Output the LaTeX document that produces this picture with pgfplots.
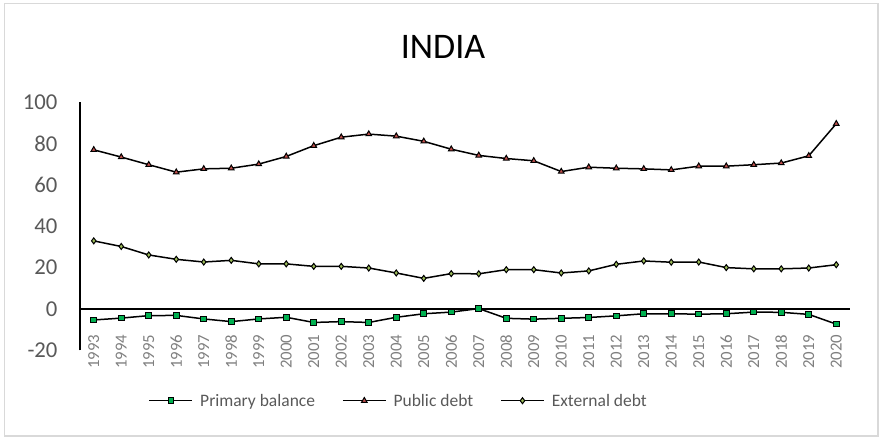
\documentclass[border=0pt]{standalone}
\usepackage{pgfplots}
\pgfplotsset{compat=1.18}
\usepackage{fontspec}
\setmainfont{Carlito}
\definecolor{tickgray}{HTML}{595959}
\definecolor{xgray}{HTML}{7F7F7F}
\definecolor{pbgreen}{HTML}{00B050}
\definecolor{pdred}{HTML}{C0504D}
\definecolor{edyellow}{HTML}{9BBB59}
\definecolor{bordergray}{HTML}{D9D9D9}
\begin{document}
\begin{tikzpicture}[x=1pt,y=1pt]
\useasboundingbox (0,0) rectangle (881,-438);
\draw[bordergray, line width=1.5pt] (4.5,-3.7) rectangle (878,-436);
\node[font=\fontsize{36}{40}\selectfont, anchor=base, inner sep=0pt] at (443,-58.3) {INDIA};
\begin{axis}[
  at={(80pt,-350.4pt)}, anchor=south west,
  scale only axis, width=770pt, height=248.4pt,
  xmin=1992.5, xmax=2020.5, ymin=-20, ymax=100,
  axis x line*=middle, axis y line*=left,
  axis line style={line width=1.5pt, black},
  xtick={1993,...,2020}, ytick={-20,0,20,40,60,80,100},
  major tick length=0pt,
  /pgf/number format/assume math mode=true,
  /pgf/number format/1000 sep={},
  yticklabel style={font=\fontsize{22.7}{24}\selectfont, text=tickgray, xshift=-19pt},
  xticklabel={\pgfmathprintnumber{\tick}\hspace*{22pt}},
  xticklabel style={font=\fontsize{16.8}{18}\selectfont, text=xgray, rotate=90, anchor=east},
  clip=false,
  legend columns=3,
  legend style={at={(0.414,-0.2025)}, anchor=center, draw=none, fill=none,
    font=\fontsize{17.5}{19}\selectfont, text=tickgray,
    /tikz/every even column/.append style={column sep=25pt},
    /tikz/every odd column/.append style={column sep=5pt}},
  legend image code/.code={\draw[mark repeat=2,mark phase=2,#1] plot coordinates {(0pt,0pt) (21.5pt,0pt) (43pt,0pt)};},
  every axis plot/.append style={line width=1.5pt, black},
]
\addplot[mark=square*, mark size=2.8pt, mark options={fill=pbgreen, draw=black, line width=1pt}] coordinates {
(1993,-5.3)(1994,-4.4)(1995,-3.2)(1996,-3.1)(1997,-4.8)(1998,-6.1)(1999,-4.8)(2000,-4.0)(2001,-6.5)(2002,-6.1)(2003,-6.5)(2004,-4.0)(2005,-2.3)(2006,-1.5)(2007,0.2)(2008,-4.5)(2009,-4.9)(2010,-4.5)(2011,-4.1)(2012,-3.3)(2013,-2.3)(2014,-2.3)(2015,-2.5)(2016,-2.3)(2017,-1.5)(2018,-1.6)(2019,-2.6)(2020,-7.3)};
\addlegendentry{Primary balance}
\addplot[mark=triangle*, mark size=3.2pt, mark options={fill=pdred, draw=black, line width=1pt}] coordinates {
(1993,76.9)(1994,73.4)(1995,69.7)(1996,66.1)(1997,67.7)(1998,68.0)(1999,70.0)(2000,73.7)(2001,78.9)(2002,83.0)(2003,84.5)(2004,83.5)(2005,81.0)(2006,77.2)(2007,74.2)(2008,72.7)(2009,71.6)(2010,66.4)(2011,68.5)(2012,68.0)(2013,67.7)(2014,67.2)(2015,69.0)(2016,69.0)(2017,69.7)(2018,70.5)(2019,74.0)(2020,89.5)};
\addlegendentry{Public debt}
\addplot[mark=diamond*, mark size=3pt, mark options={fill=edyellow, draw=black, line width=1pt}] coordinates {
(1993,32.9)(1994,30.2)(1995,26.1)(1996,24.0)(1997,22.7)(1998,23.5)(1999,21.8)(2000,21.8)(2001,20.6)(2002,20.6)(2003,19.8)(2004,17.4)(2005,14.8)(2006,17.1)(2007,17.0)(2008,19.0)(2009,19.0)(2010,17.4)(2011,18.4)(2012,21.6)(2013,23.2)(2014,22.6)(2015,22.7)(2016,20.0)(2017,19.4)(2018,19.4)(2019,19.8)(2020,21.4)};
\addlegendentry{External debt}
\end{axis}
\end{tikzpicture}
\end{document}
